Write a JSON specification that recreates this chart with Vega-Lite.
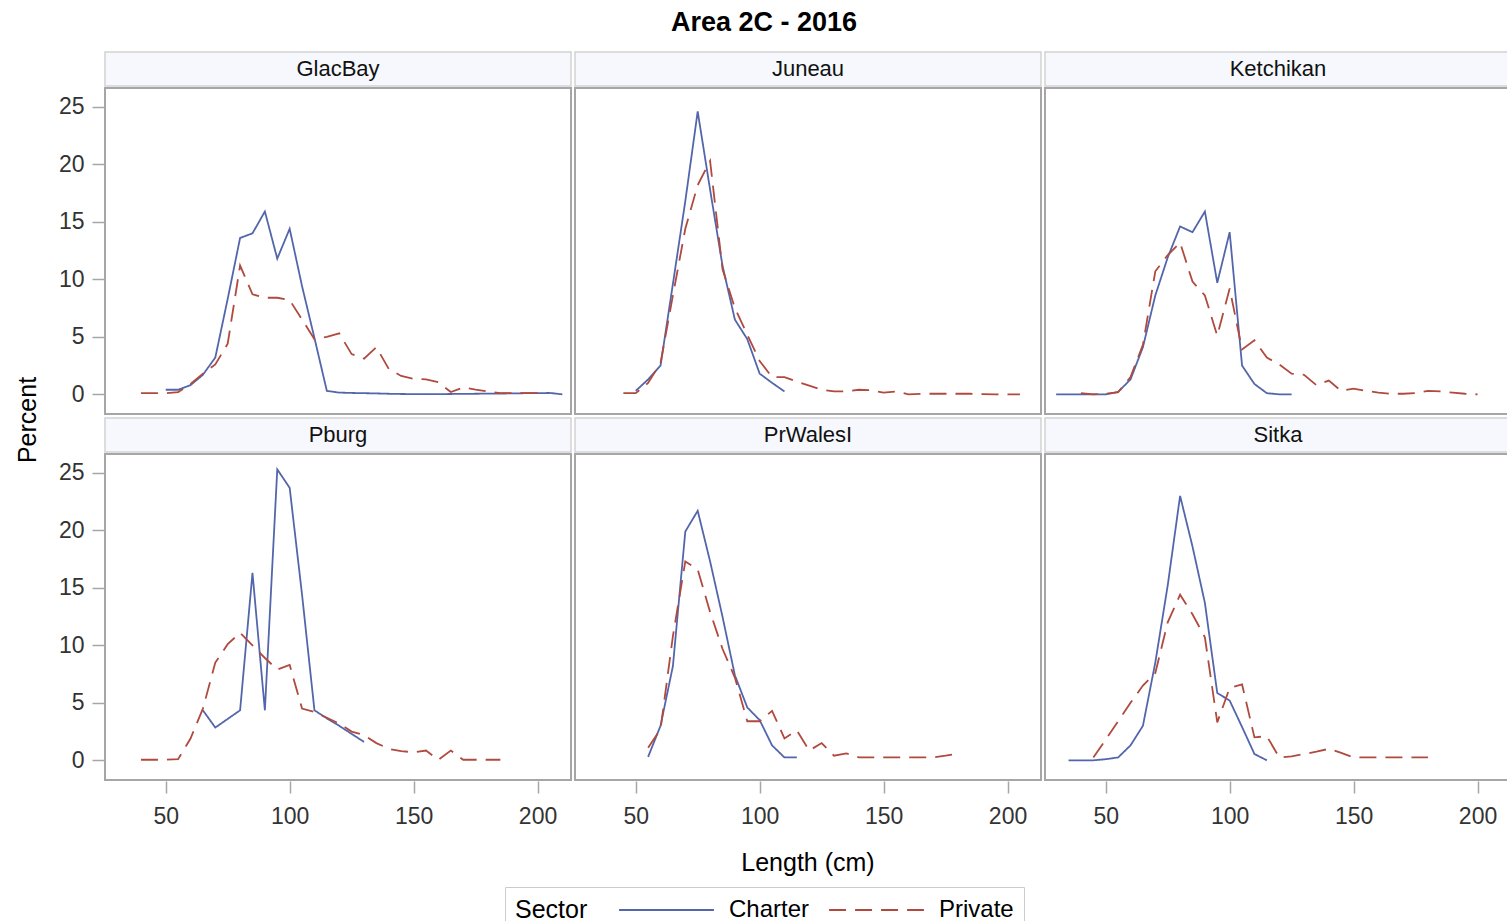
{
  "$schema": "https://vega.github.io/schema/vega-lite/v6.json",
  "padding": {"left": 16, "top": 9, "right": 0, "bottom": 0},
  "title": {"text": "Area 2C - 2016", "fontSize": 27, "fontWeight": "bold", "font": "Liberation Sans", "color": "#000000", "anchor": "middle", "offset": 14},
  "data": {"values": [
    {"Region":"GlacBay","Sector":"Charter","Length":50,"Percent":0.4},
    {"Region":"GlacBay","Sector":"Charter","Length":55,"Percent":0.4},
    {"Region":"GlacBay","Sector":"Charter","Length":60,"Percent":0.8},
    {"Region":"GlacBay","Sector":"Charter","Length":65,"Percent":1.7},
    {"Region":"GlacBay","Sector":"Charter","Length":70,"Percent":3.2},
    {"Region":"GlacBay","Sector":"Charter","Length":75,"Percent":8.3},
    {"Region":"GlacBay","Sector":"Charter","Length":80,"Percent":13.6},
    {"Region":"GlacBay","Sector":"Charter","Length":85,"Percent":14.0},
    {"Region":"GlacBay","Sector":"Charter","Length":90,"Percent":15.9},
    {"Region":"GlacBay","Sector":"Charter","Length":95,"Percent":11.8},
    {"Region":"GlacBay","Sector":"Charter","Length":100,"Percent":14.4},
    {"Region":"GlacBay","Sector":"Charter","Length":105,"Percent":9.4},
    {"Region":"GlacBay","Sector":"Charter","Length":110,"Percent":4.9},
    {"Region":"GlacBay","Sector":"Charter","Length":115,"Percent":0.3},
    {"Region":"GlacBay","Sector":"Charter","Length":120,"Percent":0.15},
    {"Region":"GlacBay","Sector":"Charter","Length":125,"Percent":0.12},
    {"Region":"GlacBay","Sector":"Charter","Length":130,"Percent":0.1},
    {"Region":"GlacBay","Sector":"Charter","Length":135,"Percent":0.08},
    {"Region":"GlacBay","Sector":"Charter","Length":140,"Percent":0.05},
    {"Region":"GlacBay","Sector":"Charter","Length":145,"Percent":0.03},
    {"Region":"GlacBay","Sector":"Charter","Length":150,"Percent":0.02},
    {"Region":"GlacBay","Sector":"Charter","Length":155,"Percent":0.02},
    {"Region":"GlacBay","Sector":"Charter","Length":160,"Percent":0.02},
    {"Region":"GlacBay","Sector":"Charter","Length":165,"Percent":0.03},
    {"Region":"GlacBay","Sector":"Charter","Length":170,"Percent":0.04},
    {"Region":"GlacBay","Sector":"Charter","Length":175,"Percent":0.05},
    {"Region":"GlacBay","Sector":"Charter","Length":180,"Percent":0.06},
    {"Region":"GlacBay","Sector":"Charter","Length":185,"Percent":0.07},
    {"Region":"GlacBay","Sector":"Charter","Length":190,"Percent":0.08},
    {"Region":"GlacBay","Sector":"Charter","Length":195,"Percent":0.1},
    {"Region":"GlacBay","Sector":"Charter","Length":200,"Percent":0.1},
    {"Region":"GlacBay","Sector":"Charter","Length":205,"Percent":0.12},
    {"Region":"GlacBay","Sector":"Charter","Length":210,"Percent":0.0},
    {"Region":"GlacBay","Sector":"Private","Length":40,"Percent":0.1},
    {"Region":"GlacBay","Sector":"Private","Length":45,"Percent":0.1},
    {"Region":"GlacBay","Sector":"Private","Length":50,"Percent":0.1},
    {"Region":"GlacBay","Sector":"Private","Length":55,"Percent":0.2},
    {"Region":"GlacBay","Sector":"Private","Length":60,"Percent":0.9},
    {"Region":"GlacBay","Sector":"Private","Length":65,"Percent":1.8},
    {"Region":"GlacBay","Sector":"Private","Length":70,"Percent":2.6},
    {"Region":"GlacBay","Sector":"Private","Length":75,"Percent":4.4},
    {"Region":"GlacBay","Sector":"Private","Length":80,"Percent":11.2},
    {"Region":"GlacBay","Sector":"Private","Length":85,"Percent":8.7},
    {"Region":"GlacBay","Sector":"Private","Length":90,"Percent":8.4},
    {"Region":"GlacBay","Sector":"Private","Length":95,"Percent":8.4},
    {"Region":"GlacBay","Sector":"Private","Length":100,"Percent":8.2},
    {"Region":"GlacBay","Sector":"Private","Length":105,"Percent":6.5},
    {"Region":"GlacBay","Sector":"Private","Length":110,"Percent":4.8},
    {"Region":"GlacBay","Sector":"Private","Length":115,"Percent":5.0},
    {"Region":"GlacBay","Sector":"Private","Length":120,"Percent":5.3},
    {"Region":"GlacBay","Sector":"Private","Length":125,"Percent":3.5},
    {"Region":"GlacBay","Sector":"Private","Length":130,"Percent":3.1},
    {"Region":"GlacBay","Sector":"Private","Length":135,"Percent":4.1},
    {"Region":"GlacBay","Sector":"Private","Length":140,"Percent":2.2},
    {"Region":"GlacBay","Sector":"Private","Length":145,"Percent":1.6},
    {"Region":"GlacBay","Sector":"Private","Length":150,"Percent":1.35},
    {"Region":"GlacBay","Sector":"Private","Length":155,"Percent":1.3},
    {"Region":"GlacBay","Sector":"Private","Length":160,"Percent":1.05},
    {"Region":"GlacBay","Sector":"Private","Length":165,"Percent":0.2},
    {"Region":"GlacBay","Sector":"Private","Length":170,"Percent":0.6},
    {"Region":"GlacBay","Sector":"Private","Length":175,"Percent":0.4},
    {"Region":"GlacBay","Sector":"Private","Length":180,"Percent":0.25},
    {"Region":"GlacBay","Sector":"Private","Length":185,"Percent":0.1},
    {"Region":"GlacBay","Sector":"Private","Length":190,"Percent":0.1},
    {"Region":"GlacBay","Sector":"Private","Length":195,"Percent":0.1},
    {"Region":"GlacBay","Sector":"Private","Length":200,"Percent":0.1},
    {"Region":"Juneau","Sector":"Charter","Length":50,"Percent":0.3},
    {"Region":"Juneau","Sector":"Charter","Length":55,"Percent":1.3},
    {"Region":"Juneau","Sector":"Charter","Length":60,"Percent":2.5},
    {"Region":"Juneau","Sector":"Charter","Length":65,"Percent":9.6},
    {"Region":"Juneau","Sector":"Charter","Length":70,"Percent":16.8},
    {"Region":"Juneau","Sector":"Charter","Length":75,"Percent":24.6},
    {"Region":"Juneau","Sector":"Charter","Length":80,"Percent":17.8},
    {"Region":"Juneau","Sector":"Charter","Length":85,"Percent":11.2},
    {"Region":"Juneau","Sector":"Charter","Length":90,"Percent":6.5},
    {"Region":"Juneau","Sector":"Charter","Length":95,"Percent":4.8},
    {"Region":"Juneau","Sector":"Charter","Length":100,"Percent":1.8},
    {"Region":"Juneau","Sector":"Charter","Length":105,"Percent":1.0},
    {"Region":"Juneau","Sector":"Charter","Length":110,"Percent":0.25},
    {"Region":"Juneau","Sector":"Private","Length":45,"Percent":0.1},
    {"Region":"Juneau","Sector":"Private","Length":50,"Percent":0.1},
    {"Region":"Juneau","Sector":"Private","Length":55,"Percent":1.0},
    {"Region":"Juneau","Sector":"Private","Length":60,"Percent":2.7},
    {"Region":"Juneau","Sector":"Private","Length":65,"Percent":8.6},
    {"Region":"Juneau","Sector":"Private","Length":70,"Percent":14.4},
    {"Region":"Juneau","Sector":"Private","Length":75,"Percent":18.2},
    {"Region":"Juneau","Sector":"Private","Length":80,"Percent":20.3},
    {"Region":"Juneau","Sector":"Private","Length":85,"Percent":10.9},
    {"Region":"Juneau","Sector":"Private","Length":90,"Percent":7.5},
    {"Region":"Juneau","Sector":"Private","Length":95,"Percent":5.2},
    {"Region":"Juneau","Sector":"Private","Length":100,"Percent":2.9},
    {"Region":"Juneau","Sector":"Private","Length":105,"Percent":1.5},
    {"Region":"Juneau","Sector":"Private","Length":110,"Percent":1.5},
    {"Region":"Juneau","Sector":"Private","Length":115,"Percent":1.1},
    {"Region":"Juneau","Sector":"Private","Length":120,"Percent":0.75},
    {"Region":"Juneau","Sector":"Private","Length":125,"Percent":0.4},
    {"Region":"Juneau","Sector":"Private","Length":130,"Percent":0.25},
    {"Region":"Juneau","Sector":"Private","Length":135,"Percent":0.25},
    {"Region":"Juneau","Sector":"Private","Length":140,"Percent":0.4},
    {"Region":"Juneau","Sector":"Private","Length":145,"Percent":0.35},
    {"Region":"Juneau","Sector":"Private","Length":150,"Percent":0.15},
    {"Region":"Juneau","Sector":"Private","Length":155,"Percent":0.25},
    {"Region":"Juneau","Sector":"Private","Length":160,"Percent":0.0},
    {"Region":"Juneau","Sector":"Private","Length":165,"Percent":0.05},
    {"Region":"Juneau","Sector":"Private","Length":170,"Percent":0.05},
    {"Region":"Juneau","Sector":"Private","Length":175,"Percent":0.05},
    {"Region":"Juneau","Sector":"Private","Length":180,"Percent":0.05},
    {"Region":"Juneau","Sector":"Private","Length":185,"Percent":0.05},
    {"Region":"Juneau","Sector":"Private","Length":190,"Percent":0.02},
    {"Region":"Juneau","Sector":"Private","Length":195,"Percent":0.0},
    {"Region":"Juneau","Sector":"Private","Length":200,"Percent":0.0},
    {"Region":"Juneau","Sector":"Private","Length":205,"Percent":0.0},
    {"Region":"Ketchikan","Sector":"Charter","Length":30,"Percent":0.0},
    {"Region":"Ketchikan","Sector":"Charter","Length":35,"Percent":0.0},
    {"Region":"Ketchikan","Sector":"Charter","Length":40,"Percent":0.0},
    {"Region":"Ketchikan","Sector":"Charter","Length":45,"Percent":0.0},
    {"Region":"Ketchikan","Sector":"Charter","Length":50,"Percent":0.0},
    {"Region":"Ketchikan","Sector":"Charter","Length":55,"Percent":0.2},
    {"Region":"Ketchikan","Sector":"Charter","Length":60,"Percent":1.3},
    {"Region":"Ketchikan","Sector":"Charter","Length":65,"Percent":4.1},
    {"Region":"Ketchikan","Sector":"Charter","Length":70,"Percent":8.6},
    {"Region":"Ketchikan","Sector":"Charter","Length":75,"Percent":11.9},
    {"Region":"Ketchikan","Sector":"Charter","Length":80,"Percent":14.6},
    {"Region":"Ketchikan","Sector":"Charter","Length":85,"Percent":14.1},
    {"Region":"Ketchikan","Sector":"Charter","Length":90,"Percent":15.9},
    {"Region":"Ketchikan","Sector":"Charter","Length":95,"Percent":9.7},
    {"Region":"Ketchikan","Sector":"Charter","Length":100,"Percent":14.1},
    {"Region":"Ketchikan","Sector":"Charter","Length":105,"Percent":2.5},
    {"Region":"Ketchikan","Sector":"Charter","Length":110,"Percent":0.9},
    {"Region":"Ketchikan","Sector":"Charter","Length":115,"Percent":0.1},
    {"Region":"Ketchikan","Sector":"Charter","Length":120,"Percent":0.0},
    {"Region":"Ketchikan","Sector":"Charter","Length":125,"Percent":0.0},
    {"Region":"Ketchikan","Sector":"Private","Length":40,"Percent":0.1},
    {"Region":"Ketchikan","Sector":"Private","Length":45,"Percent":0.0},
    {"Region":"Ketchikan","Sector":"Private","Length":50,"Percent":0.05},
    {"Region":"Ketchikan","Sector":"Private","Length":55,"Percent":0.2},
    {"Region":"Ketchikan","Sector":"Private","Length":60,"Percent":1.5},
    {"Region":"Ketchikan","Sector":"Private","Length":65,"Percent":4.3},
    {"Region":"Ketchikan","Sector":"Private","Length":70,"Percent":10.7},
    {"Region":"Ketchikan","Sector":"Private","Length":75,"Percent":12.1},
    {"Region":"Ketchikan","Sector":"Private","Length":80,"Percent":13.2},
    {"Region":"Ketchikan","Sector":"Private","Length":85,"Percent":9.8},
    {"Region":"Ketchikan","Sector":"Private","Length":90,"Percent":8.6},
    {"Region":"Ketchikan","Sector":"Private","Length":95,"Percent":5.1},
    {"Region":"Ketchikan","Sector":"Private","Length":100,"Percent":9.2},
    {"Region":"Ketchikan","Sector":"Private","Length":105,"Percent":3.9},
    {"Region":"Ketchikan","Sector":"Private","Length":110,"Percent":4.7},
    {"Region":"Ketchikan","Sector":"Private","Length":115,"Percent":3.2},
    {"Region":"Ketchikan","Sector":"Private","Length":120,"Percent":2.6},
    {"Region":"Ketchikan","Sector":"Private","Length":125,"Percent":1.8},
    {"Region":"Ketchikan","Sector":"Private","Length":130,"Percent":1.7},
    {"Region":"Ketchikan","Sector":"Private","Length":135,"Percent":0.8},
    {"Region":"Ketchikan","Sector":"Private","Length":140,"Percent":1.2},
    {"Region":"Ketchikan","Sector":"Private","Length":145,"Percent":0.3},
    {"Region":"Ketchikan","Sector":"Private","Length":150,"Percent":0.5},
    {"Region":"Ketchikan","Sector":"Private","Length":155,"Percent":0.3},
    {"Region":"Ketchikan","Sector":"Private","Length":160,"Percent":0.15},
    {"Region":"Ketchikan","Sector":"Private","Length":165,"Percent":0.05},
    {"Region":"Ketchikan","Sector":"Private","Length":170,"Percent":0.05},
    {"Region":"Ketchikan","Sector":"Private","Length":175,"Percent":0.1},
    {"Region":"Ketchikan","Sector":"Private","Length":180,"Percent":0.3},
    {"Region":"Ketchikan","Sector":"Private","Length":185,"Percent":0.25},
    {"Region":"Ketchikan","Sector":"Private","Length":190,"Percent":0.15},
    {"Region":"Ketchikan","Sector":"Private","Length":195,"Percent":0.05},
    {"Region":"Ketchikan","Sector":"Private","Length":200,"Percent":0.0},
    {"Region":"Pburg","Sector":"Charter","Length":65,"Percent":4.35},
    {"Region":"Pburg","Sector":"Charter","Length":70,"Percent":2.85},
    {"Region":"Pburg","Sector":"Charter","Length":75,"Percent":3.6},
    {"Region":"Pburg","Sector":"Charter","Length":80,"Percent":4.35},
    {"Region":"Pburg","Sector":"Charter","Length":85,"Percent":16.3},
    {"Region":"Pburg","Sector":"Charter","Length":90,"Percent":4.35},
    {"Region":"Pburg","Sector":"Charter","Length":95,"Percent":25.3},
    {"Region":"Pburg","Sector":"Charter","Length":100,"Percent":23.7},
    {"Region":"Pburg","Sector":"Charter","Length":105,"Percent":14.4},
    {"Region":"Pburg","Sector":"Charter","Length":110,"Percent":4.35},
    {"Region":"Pburg","Sector":"Charter","Length":115,"Percent":3.65},
    {"Region":"Pburg","Sector":"Charter","Length":120,"Percent":3.0},
    {"Region":"Pburg","Sector":"Charter","Length":125,"Percent":2.3},
    {"Region":"Pburg","Sector":"Charter","Length":130,"Percent":1.6},
    {"Region":"Pburg","Sector":"Private","Length":40,"Percent":0.05},
    {"Region":"Pburg","Sector":"Private","Length":45,"Percent":0.05},
    {"Region":"Pburg","Sector":"Private","Length":50,"Percent":0.05},
    {"Region":"Pburg","Sector":"Private","Length":55,"Percent":0.1},
    {"Region":"Pburg","Sector":"Private","Length":60,"Percent":1.9},
    {"Region":"Pburg","Sector":"Private","Length":65,"Percent":4.5},
    {"Region":"Pburg","Sector":"Private","Length":70,"Percent":8.5},
    {"Region":"Pburg","Sector":"Private","Length":75,"Percent":10.1},
    {"Region":"Pburg","Sector":"Private","Length":80,"Percent":11.1},
    {"Region":"Pburg","Sector":"Private","Length":85,"Percent":10.0},
    {"Region":"Pburg","Sector":"Private","Length":90,"Percent":8.9},
    {"Region":"Pburg","Sector":"Private","Length":95,"Percent":7.9},
    {"Region":"Pburg","Sector":"Private","Length":100,"Percent":8.3},
    {"Region":"Pburg","Sector":"Private","Length":105,"Percent":4.5},
    {"Region":"Pburg","Sector":"Private","Length":110,"Percent":4.2},
    {"Region":"Pburg","Sector":"Private","Length":115,"Percent":3.7},
    {"Region":"Pburg","Sector":"Private","Length":120,"Percent":3.2},
    {"Region":"Pburg","Sector":"Private","Length":125,"Percent":2.5},
    {"Region":"Pburg","Sector":"Private","Length":130,"Percent":2.2},
    {"Region":"Pburg","Sector":"Private","Length":135,"Percent":1.5},
    {"Region":"Pburg","Sector":"Private","Length":140,"Percent":1.0},
    {"Region":"Pburg","Sector":"Private","Length":145,"Percent":0.8},
    {"Region":"Pburg","Sector":"Private","Length":150,"Percent":0.7},
    {"Region":"Pburg","Sector":"Private","Length":155,"Percent":0.85},
    {"Region":"Pburg","Sector":"Private","Length":160,"Percent":0.05},
    {"Region":"Pburg","Sector":"Private","Length":165,"Percent":0.85},
    {"Region":"Pburg","Sector":"Private","Length":170,"Percent":0.05},
    {"Region":"Pburg","Sector":"Private","Length":175,"Percent":0.05},
    {"Region":"Pburg","Sector":"Private","Length":180,"Percent":0.05},
    {"Region":"Pburg","Sector":"Private","Length":185,"Percent":0.05},
    {"Region":"PrWalesI","Sector":"Charter","Length":55,"Percent":0.3},
    {"Region":"PrWalesI","Sector":"Charter","Length":60,"Percent":3.0},
    {"Region":"PrWalesI","Sector":"Charter","Length":65,"Percent":8.2},
    {"Region":"PrWalesI","Sector":"Charter","Length":70,"Percent":19.9},
    {"Region":"PrWalesI","Sector":"Charter","Length":75,"Percent":21.7},
    {"Region":"PrWalesI","Sector":"Charter","Length":80,"Percent":17.3},
    {"Region":"PrWalesI","Sector":"Charter","Length":85,"Percent":12.5},
    {"Region":"PrWalesI","Sector":"Charter","Length":90,"Percent":7.4},
    {"Region":"PrWalesI","Sector":"Charter","Length":95,"Percent":4.6},
    {"Region":"PrWalesI","Sector":"Charter","Length":100,"Percent":3.5},
    {"Region":"PrWalesI","Sector":"Charter","Length":105,"Percent":1.3},
    {"Region":"PrWalesI","Sector":"Charter","Length":110,"Percent":0.25},
    {"Region":"PrWalesI","Sector":"Charter","Length":115,"Percent":0.25},
    {"Region":"PrWalesI","Sector":"Private","Length":55,"Percent":1.1},
    {"Region":"PrWalesI","Sector":"Private","Length":60,"Percent":2.7},
    {"Region":"PrWalesI","Sector":"Private","Length":65,"Percent":10.8},
    {"Region":"PrWalesI","Sector":"Private","Length":70,"Percent":17.3},
    {"Region":"PrWalesI","Sector":"Private","Length":75,"Percent":16.6},
    {"Region":"PrWalesI","Sector":"Private","Length":80,"Percent":12.9},
    {"Region":"PrWalesI","Sector":"Private","Length":85,"Percent":9.7},
    {"Region":"PrWalesI","Sector":"Private","Length":90,"Percent":7.2},
    {"Region":"PrWalesI","Sector":"Private","Length":95,"Percent":3.4},
    {"Region":"PrWalesI","Sector":"Private","Length":100,"Percent":3.4},
    {"Region":"PrWalesI","Sector":"Private","Length":105,"Percent":4.3},
    {"Region":"PrWalesI","Sector":"Private","Length":110,"Percent":1.9},
    {"Region":"PrWalesI","Sector":"Private","Length":115,"Percent":2.6},
    {"Region":"PrWalesI","Sector":"Private","Length":120,"Percent":0.85},
    {"Region":"PrWalesI","Sector":"Private","Length":125,"Percent":1.5},
    {"Region":"PrWalesI","Sector":"Private","Length":130,"Percent":0.4},
    {"Region":"PrWalesI","Sector":"Private","Length":135,"Percent":0.6},
    {"Region":"PrWalesI","Sector":"Private","Length":140,"Percent":0.25},
    {"Region":"PrWalesI","Sector":"Private","Length":145,"Percent":0.25},
    {"Region":"PrWalesI","Sector":"Private","Length":150,"Percent":0.25},
    {"Region":"PrWalesI","Sector":"Private","Length":155,"Percent":0.25},
    {"Region":"PrWalesI","Sector":"Private","Length":160,"Percent":0.25},
    {"Region":"PrWalesI","Sector":"Private","Length":165,"Percent":0.25},
    {"Region":"PrWalesI","Sector":"Private","Length":170,"Percent":0.25},
    {"Region":"PrWalesI","Sector":"Private","Length":175,"Percent":0.4},
    {"Region":"PrWalesI","Sector":"Private","Length":180,"Percent":0.6},
    {"Region":"Sitka","Sector":"Charter","Length":35,"Percent":0.0},
    {"Region":"Sitka","Sector":"Charter","Length":40,"Percent":0.0},
    {"Region":"Sitka","Sector":"Charter","Length":45,"Percent":0.0},
    {"Region":"Sitka","Sector":"Charter","Length":50,"Percent":0.1},
    {"Region":"Sitka","Sector":"Charter","Length":55,"Percent":0.25},
    {"Region":"Sitka","Sector":"Charter","Length":60,"Percent":1.3},
    {"Region":"Sitka","Sector":"Charter","Length":65,"Percent":3.0},
    {"Region":"Sitka","Sector":"Charter","Length":70,"Percent":8.5},
    {"Region":"Sitka","Sector":"Charter","Length":75,"Percent":15.2},
    {"Region":"Sitka","Sector":"Charter","Length":80,"Percent":23.0},
    {"Region":"Sitka","Sector":"Charter","Length":85,"Percent":18.6},
    {"Region":"Sitka","Sector":"Charter","Length":90,"Percent":13.7},
    {"Region":"Sitka","Sector":"Charter","Length":95,"Percent":5.85},
    {"Region":"Sitka","Sector":"Charter","Length":100,"Percent":5.2},
    {"Region":"Sitka","Sector":"Charter","Length":105,"Percent":2.9},
    {"Region":"Sitka","Sector":"Charter","Length":110,"Percent":0.55},
    {"Region":"Sitka","Sector":"Charter","Length":115,"Percent":0.0},
    {"Region":"Sitka","Sector":"Private","Length":45,"Percent":0.25},
    {"Region":"Sitka","Sector":"Private","Length":50,"Percent":1.8},
    {"Region":"Sitka","Sector":"Private","Length":55,"Percent":3.4},
    {"Region":"Sitka","Sector":"Private","Length":60,"Percent":5.0},
    {"Region":"Sitka","Sector":"Private","Length":65,"Percent":6.5},
    {"Region":"Sitka","Sector":"Private","Length":70,"Percent":7.6},
    {"Region":"Sitka","Sector":"Private","Length":75,"Percent":12.0},
    {"Region":"Sitka","Sector":"Private","Length":80,"Percent":14.4},
    {"Region":"Sitka","Sector":"Private","Length":85,"Percent":12.7},
    {"Region":"Sitka","Sector":"Private","Length":90,"Percent":10.7},
    {"Region":"Sitka","Sector":"Private","Length":95,"Percent":3.3},
    {"Region":"Sitka","Sector":"Private","Length":100,"Percent":6.3},
    {"Region":"Sitka","Sector":"Private","Length":105,"Percent":6.6},
    {"Region":"Sitka","Sector":"Private","Length":110,"Percent":2.0},
    {"Region":"Sitka","Sector":"Private","Length":115,"Percent":2.1},
    {"Region":"Sitka","Sector":"Private","Length":120,"Percent":0.25},
    {"Region":"Sitka","Sector":"Private","Length":125,"Percent":0.35},
    {"Region":"Sitka","Sector":"Private","Length":130,"Percent":0.55},
    {"Region":"Sitka","Sector":"Private","Length":135,"Percent":0.75},
    {"Region":"Sitka","Sector":"Private","Length":140,"Percent":1.0},
    {"Region":"Sitka","Sector":"Private","Length":145,"Percent":0.65},
    {"Region":"Sitka","Sector":"Private","Length":150,"Percent":0.25},
    {"Region":"Sitka","Sector":"Private","Length":155,"Percent":0.25},
    {"Region":"Sitka","Sector":"Private","Length":160,"Percent":0.25},
    {"Region":"Sitka","Sector":"Private","Length":165,"Percent":0.25},
    {"Region":"Sitka","Sector":"Private","Length":170,"Percent":0.25},
    {"Region":"Sitka","Sector":"Private","Length":175,"Percent":0.25},
    {"Region":"Sitka","Sector":"Private","Length":180,"Percent":0.25}
  ]},
  "spacing": 17,
  "hconcat": [
    {
      "width": 24,
      "height": 736,
      "data": {"values": [{"label": "Percent"}]},
      "mark": {"type": "text", "angle": 270, "fontSize": 25, "font": "Liberation Sans", "color": "#000000", "baseline": "middle", "align": "center"},
      "encoding": {"text": {"field": "label", "type": "nominal"}}
    },
    {
      "columns": 3,
      "spacing": {"row": 2, "column": 2},
      "facet": {
        "field": "Region", "type": "nominal",
        "sort": ["GlacBay", "Juneau", "Ketchikan", "Pburg", "PrWalesI", "Sitka"],
        "header": {"title": "Length (cm)", "titleOrient": "bottom", "labels": false, "labelExpr": "''", "labelFontSize": 0, "labelPadding": 0, "titleFontSize": 25, "titleFont": "Liberation Sans", "titleFontWeight": "normal", "titleColor": "#000000", "titlePadding": 23}
      },
      "spec": {
        "width": 466,
        "height": 362,
        "layer": [
          {
            "transform": [{"aggregate": [{"op": "count", "as": "n"}], "groupby": ["Region"]}],
            "mark": {"type": "rect", "fill": "#f6f8fd", "stroke": "#d2d2d2", "strokeWidth": 1.5},
            "encoding": {
              "x": {"datum": 25.5, "type": "quantitative", "scale": {"domain": [25.5, 213.5], "nice": false, "zero": false}, "axis": {"values": [50, 100, 150, 200], "labelPadding": 12}},
              "x2": {"datum": 213.5},
              "y": {"datum": 26.82, "type": "quantitative", "scale": {"domain": [-1.71, 29.77], "nice": false, "zero": false}, "axis": {"values": [0, 5, 10, 15, 20, 25], "labelPadding": 8}},
              "y2": {"datum": 29.77}
            }
          },
          {
            "transform": [{"aggregate": [{"op": "count", "as": "n"}], "groupby": ["Region"]}],
            "mark": {"type": "rect", "fillOpacity": 0, "fill": "#ffffff", "stroke": "#a6a6a6", "strokeWidth": 2},
            "encoding": {
              "x": {"datum": 25.5, "type": "quantitative"},
              "x2": {"datum": 213.5},
              "y": {"datum": -1.71, "type": "quantitative"},
              "y2": {"datum": 26.65}
            }
          },
          {
            "transform": [{"aggregate": [{"op": "count", "as": "n"}], "groupby": ["Region"]}],
            "mark": {"type": "text", "fontSize": 22, "font": "Liberation Sans", "color": "#111111", "baseline": "middle", "align": "center"},
            "encoding": {
              "x": {"datum": 119.5, "type": "quantitative"},
              "y": {"datum": 28.3, "type": "quantitative"},
              "text": {"field": "Region", "type": "nominal"}
            }
          },
          {
            "mark": {"type": "line", "strokeWidth": 1.8},
            "encoding": {
              "x": {"field": "Length", "type": "quantitative"},
              "y": {"field": "Percent", "type": "quantitative"},
              "color": {"field": "Sector", "type": "nominal", "scale": {"domain": ["Charter", "Private"], "range": ["#5366ab", "#b04a3e"]},
                "legend": {"title": "Sector", "orient": "bottom", "direction": "horizontal", "titleOrient": "left", "symbolType": "stroke", "symbolSize": 9000, "symbolStrokeWidth": 2, "clipHeight": 26, "labelFontSize": 24, "titleFontSize": 25, "titleFontWeight": "normal", "labelFont": "Liberation Sans", "titleFont": "Liberation Sans", "labelColor": "#000000", "titleColor": "#000000", "strokeColor": "#cccccc", "padding": 10, "columnPadding": 18, "labelOffset": 14, "titlePadding": 30, "offset": 11}},
              "strokeDash": {"field": "Sector", "type": "nominal", "scale": {"domain": ["Charter", "Private"], "range": [[1, 0], [17, 9]]},
                "legend": {"title": "Sector", "orient": "bottom", "direction": "horizontal", "titleOrient": "left", "symbolType": "stroke", "symbolSize": 9000, "symbolStrokeWidth": 2, "clipHeight": 26, "labelFontSize": 24, "titleFontSize": 25, "titleFontWeight": "normal", "labelFont": "Liberation Sans", "titleFont": "Liberation Sans", "labelColor": "#000000", "titleColor": "#000000", "strokeColor": "#cccccc", "padding": 10, "columnPadding": 18, "labelOffset": 14, "titlePadding": 30, "offset": 11}}
            }
          }
        ]
      }
    }
  ],
  "config": {
    "font": "Liberation Sans",
    "view": {"stroke": null},
    "header": {"labels": false},
    "axis": {"title": null, "grid": false, "domain": false, "labelFont": "Liberation Sans", "labelFontSize": 23, "labelColor": "#333333", "tickColor": "#a6a6a6", "tickSize": 12, "tickWidth": 1.5},
    "legend": {"layout": {"anchor": "middle", "bottom": {"anchor": "middle"}}}
  }
}
